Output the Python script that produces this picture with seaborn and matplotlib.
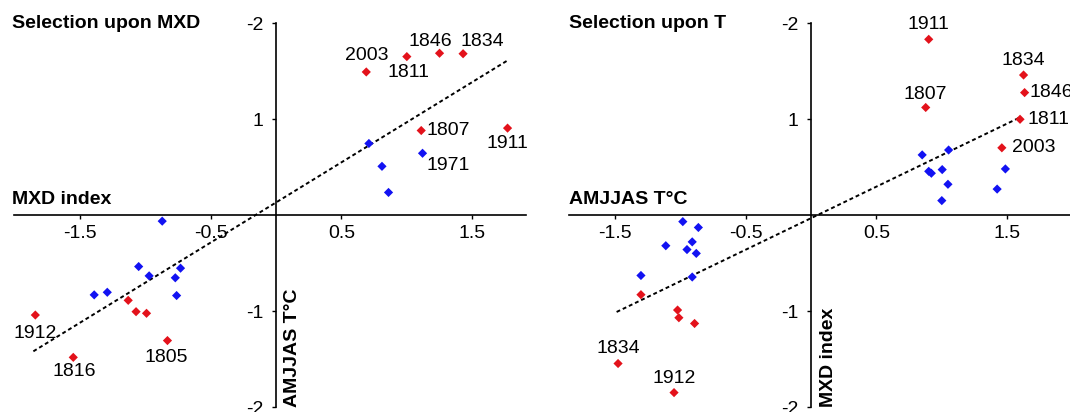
import numpy as np
import pandas as pd
import matplotlib
matplotlib.use("Agg")
import matplotlib.pyplot as plt
import seaborn as sns

# ---------------- data ----------------
# Panel 1: Selection upon MXD  (x = MXD index, y = AMJJAS T°C)
p1_red_x = [0.69, 1.00, 1.25, 1.43, 1.11, 1.77, -1.13, -1.07, -0.99, -0.83, -1.84, -1.55]
p1_red_y = [1.49, 1.65, 1.685, 1.68, 0.88, 0.905, -0.889, -1.007, -1.024, -1.308, -1.042, -1.483]
p1_red_lab = ["2003", "1811", "1846", "1834", "1807", "1911", "", "", "", "1805", "1912", "1816"]
p1_blue_x = [0.71, 0.81, 1.12, 0.86, -0.87, -1.05, -0.97, -0.73, -0.77, -0.76, -1.39, -1.29]
p1_blue_y = [0.745, 0.507, 0.643, 0.235, -0.064, -0.537, -0.634, -0.554, -0.654, -0.839, -0.832, -0.805]
p1_blue_lab = ["", "", "1971", "", "", "", "", "", "", "", "", ""]
p1_fit_x = [-1.855, 1.77]
p1_fit_y = [-1.42, 1.61]

# Panel 2: Selection upon T  (x = AMJJAS T°C, y = MXD index)
p2_red_x = [0.90, 1.625, 1.633, 0.877, 1.598, 1.459, -1.30, -1.02, -1.01, -0.89, -1.475, -1.047]
p2_red_y = [1.83, 1.458, 1.275, 1.12, 0.997, 0.70, -0.83, -0.99, -1.07, -1.13, -1.547, -1.85]
p2_red_lab = ["1911", "1834", "1846", "1807", "1811", "2003", "", "", "", "", "1834", "1912"]
p2_blue_x = [0.85, 1.052, 0.90, 0.92, 1.003, 1.047, 1.00, 1.486, 1.423,
             -0.98, -0.861, -0.908, -1.11, -0.948, -0.877, -1.30, -0.908]
p2_blue_y = [0.626, 0.677, 0.455, 0.435, 0.473, 0.32, 0.15, 0.48, 0.27,
             -0.069, -0.13, -0.28, -0.32, -0.36, -0.40, -0.63, -0.646]
p2_blue_lab = [""] * 17
p2_fit_x = [-1.486, 1.598]
p2_fit_y = [-1.01, 1.017]

x_ticks = [-1.5, -0.5, 0.5, 1.5]
x_tick_labels = ["-1.5", "-0.5", "0.5", "1.5"]
y_ticks = [2, 1, -1, -2]
y_tick_labels = ["-2", "1", "-1", "-2"]

titles = ["Selection upon MXD", "Selection upon T"]
x_names = ["MXD index", "AMJJAS T°C"]
y_names = ["AMJJAS T°C", "MXD index"]

# label placement (offset points, horizontal alignment) keyed by label text
p1_place = {"2003": (0, 11.5, "center"), "1811": (1, -11.5, "center"),
            "1846": (-6.5, 8.5, "center"), "1834": (-2, 8.5, "left"),
            "1807": (4, 0, "left"), "1911": (0, -11, "center"),
            "1805": (-1, -12, "center"), "1912": (0, -13.5, "center"),
            "1816": (1, -10.5, "center"), "1971": (3, -9, "left")}
p2_place = {"1911": (0, 10.5, "center"), "1834": (0, 10.5, "center"),
            "1846": (3.5, 0, "left"), "1807": (0, 9, "center"),
            "1811": (5.5, 0, "left"), "2003": (7.5, 0, "left"),
            "1912": (0, 10, "center")}

RED = "#e3121b"
BLUE = "#1212f2"

# ---------------- style ----------------
sns.set_style("white")
plt.rcParams["font.family"] = ["Liberation Sans", "DejaVu Sans"]
plt.rcParams["axes.unicode_minus"] = False

fig = plt.figure(figsize=(10.7, 4.12), dpi=100)

panels = [
    dict(rx=p1_red_x, ry=p1_red_y, rl=p1_red_lab, bx=p1_blue_x, by=p1_blue_y, bl=p1_blue_lab,
         fx=p1_fit_x, fy=p1_fit_y, place=p1_place, xlim=(-2.0, 1.911),
         rect=[14.4 / 1070, 5 / 412, 511.6 / 1070, 384 / 412], tx=12, ylab_dx=0.06),
    dict(rx=p2_red_x, ry=p2_red_y, rl=p2_red_lab, bx=p2_blue_x, by=p2_blue_y, bl=p2_blue_lab,
         fx=p2_fit_x, fy=p2_fit_y, place=p2_place, xlim=(-1.85, 1.98),
         rect=[569 / 1070, 5 / 412, 501 / 1070, 384 / 412], tx=569, ylab_dx=0.07),
]

for i, p in enumerate(panels):
    ax = fig.add_axes(p["rect"])
    df = pd.DataFrame({
        "x": p["rx"] + p["bx"],
        "y": p["ry"] + p["by"],
        "grp": ["red"] * len(p["rx"]) + ["blue"] * len(p["bx"]),
        "lab": p["rl"] + p["bl"],
    })
    sns.lineplot(x=p["fx"], y=p["fy"], ax=ax, color="black", lw=1.4,
                 linestyle=(0, (2.0, 1.5)), sort=False, zorder=2)
    sns.scatterplot(data=df, x="x", y="y", hue="grp",
                    palette={"red": RED, "blue": BLUE}, marker="D", s=22,
                    linewidth=0, legend=False, ax=ax, zorder=3)
    for _, r in df.iterrows():
        if r["lab"]:
            dx, dy, ha = p["place"].get(r["lab"], (0, 10, "center"))
            ax.annotate(r["lab"], (r["x"], r["y"]), xytext=(dx, dy),
                        textcoords="offset points", ha=ha, va="center",
                        fontsize=14, color="black")

    ax.set_xlim(*p["xlim"])
    ax.set_ylim(-2, 2)
    for s in ["top", "right"]:
        ax.spines[s].set_visible(False)
    ax.spines["left"].set_position(("data", 0))
    ax.spines["bottom"].set_position(("data", 0))
    for s in ["left", "bottom"]:
        ax.spines[s].set_color("black")
        ax.spines[s].set_linewidth(1.2)
    ax.spines["left"].set_bounds(-2, 2)
    ax.set_xticks(x_ticks)
    ax.set_xticklabels(x_tick_labels)
    ax.set_yticks(y_ticks)
    ax.set_yticklabels(y_tick_labels)
    ax.tick_params(axis="x", direction="out", length=3, width=1, pad=4,
                   labelsize=14, colors="black", bottom=True)
    ax.tick_params(axis="y", direction="out", length=3, width=1, pad=6,
                   labelsize=14, colors="black", left=True)
    ax.set_xlabel("")
    ax.set_ylabel("")
    ax.patch.set_alpha(0)

    # rotated axis name along the lower part of the vertical axis
    ax.text(p["ylab_dx"], -2, y_names[i], rotation=90, ha="left", va="bottom",
            fontsize=14, fontweight="bold", color="black")

    fig.text(p["tx"] / 1070, 1 - 23 / 412, titles[i], ha="left", va="center",
             fontsize=14, fontweight="bold", color="black")
    fig.text(p["tx"] / 1070, 1 - 200 / 412, x_names[i], ha="left", va="center",
             fontsize=14, fontweight="bold", color="black")

fig.savefig("out.png", dpi=100)
